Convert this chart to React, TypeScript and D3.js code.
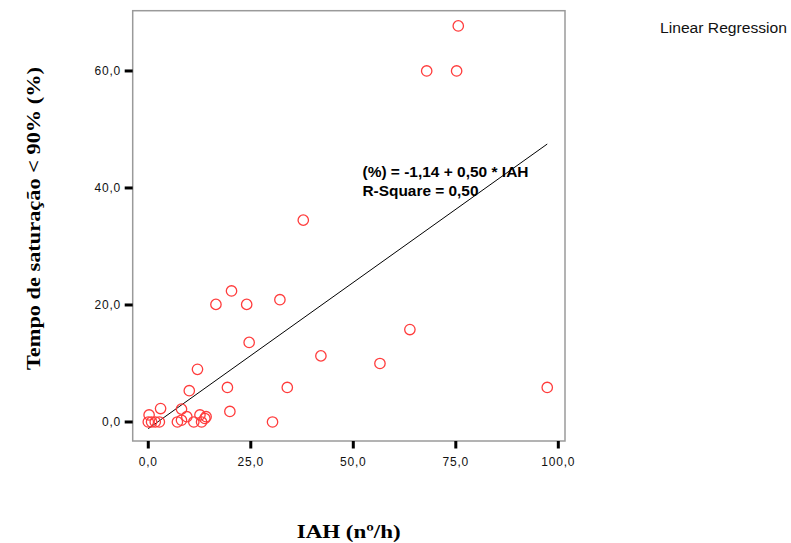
import React from "react";
import * as d3 from "d3";

const iahValues = [
  75.6, 67.9, 75.2, 37.8, 20.3, 16.5, 24.0, 32.1, 63.8, 24.6, 42.1, 56.5, 12.0,
  10.0, 19.3, 33.9, 97.3, 19.9, 30.3, 3.0, 8.1, 0.2, 0.0, 0.8, 1.7, 2.7, 7.1,
  8.1, 9.4, 11.1, 12.6, 13.0, 13.8, 14.1,
];
const satValues = [
  67.7, 60.0, 60.0, 34.5, 22.4, 20.1, 20.1, 20.9, 15.8, 13.6, 11.3, 10.0, 9.0,
  5.35, 5.9, 5.9, 5.9, 1.8, 0.0, 2.3, 2.2, 1.2, 0.0, 0.0, 0.0, 0.0, 0.0, 0.3,
  0.9, 0.0, 1.2, 0.0, 0.6, 0.9,
];
const xTicks = [0, 25, 50, 75, 100];
const yTicks = [0, 20, 40, 60];
const intercept = -1.14;
const slope = 0.5;
const equationText = "(%) = -1,14 + 0,50 * IAH";
const rSquareText = "R-Square = 0,50";
const xTitle = "IAH (nº/h)";
const yTitle = "Tempo de saturação < 90% (%)";
const legendText = "Linear Regression";

const fmt = (v: number) => v.toFixed(1).replace(".", ",");

export default function App() {
  const left = 132.7, right = 565, top = 10.7, bottom = 441;
  const x = d3.scaleLinear().domain([-3.8, 101.63]).range([left, right]);
  const y = d3.scaleLinear().domain([-3.25, 70.3]).range([bottom, top]);
  const xMin = d3.min(iahValues) as number;
  const xMax = d3.max(iahValues) as number;
  const line = d3
    .line<number>()
    .x((d) => x(d))
    .y((d) => y(intercept + slope * d));
  const sans = "'Liberation Sans', Arial, sans-serif";
  const serif = "'Liberation Serif', 'Times New Roman', serif";
  return (
    <div style={{ position: "absolute", left: 0, top: 0 }}>
      <svg width={791} height={543} style={{ display: "block", background: "#fff" }}>
        <rect
          x={left}
          y={top}
          width={right - left}
          height={bottom - top}
          fill="none"
          stroke="#9a9a9a"
          strokeWidth={1.5}
        />
        {yTicks.map((t) => (
          <g key={"y" + t}>
            <line x1={left - 8} x2={left} y1={y(t)} y2={y(t)} stroke="#000" strokeWidth={3} />
            <text
              x={121}
              y={y(t) + 4.3}
              textAnchor="end"
              fontFamily={sans}
              fontSize={12}
              letterSpacing={0.8}
              fill="#111"
            >
              {fmt(t)}
            </text>
          </g>
        ))}
        {xTicks.map((t) => (
          <g key={"x" + t}>
            <line x1={x(t)} x2={x(t)} y1={bottom} y2={bottom + 7.5} stroke="#000" strokeWidth={3} />
            <text
              x={x(t)}
              y={466}
              textAnchor="middle"
              fontFamily={sans}
              fontSize={12}
              letterSpacing={0.8}
              fill="#111"
            >
              {fmt(t)}
            </text>
          </g>
        ))}
        <path d={line([xMin, xMax]) || ""} fill="none" stroke="#000" strokeWidth={1} />
        {iahValues.map((v, i) => (
          <circle
            key={i}
            cx={x(v)}
            cy={y(satValues[i])}
            r={5.2}
            fill="none"
            stroke="#ff3c3c"
            strokeWidth={1.3}
          />
        ))}
        <text
          x={362.5}
          y={176.5}
          fontFamily={sans}
          fontWeight="bold"
          fontSize={15.5}
          textLength={166}
          lengthAdjust="spacingAndGlyphs"
          fill="#000"
        >
          {equationText}
        </text>
        <text
          x={362.5}
          y={195.5}
          fontFamily={sans}
          fontWeight="bold"
          fontSize={15.5}
          textLength={116}
          lengthAdjust="spacingAndGlyphs"
          fill="#000"
        >
          {rSquareText}
        </text>
        <text
          x={660}
          y={33}
          fontFamily={sans}
          fontSize={14}
          textLength={127}
          lengthAdjust="spacingAndGlyphs"
          fill="#111"
        >
          {legendText}
        </text>
        <text
          x={348.7}
          y={538.3}
          textAnchor="middle"
          fontFamily={serif}
          fontWeight="bold"
          fontSize={19}
          textLength={104}
          lengthAdjust="spacingAndGlyphs"
          fill="#000"
        >
          {xTitle}
        </text>
        <text
          transform={`translate(40,218.5) rotate(-90)`}
          textAnchor="middle"
          fontFamily={serif}
          fontWeight="bold"
          fontSize={19}
          textLength={303}
          lengthAdjust="spacingAndGlyphs"
          fill="#000"
        >
          {yTitle}
        </text>
      </svg>
    </div>
  );
}
